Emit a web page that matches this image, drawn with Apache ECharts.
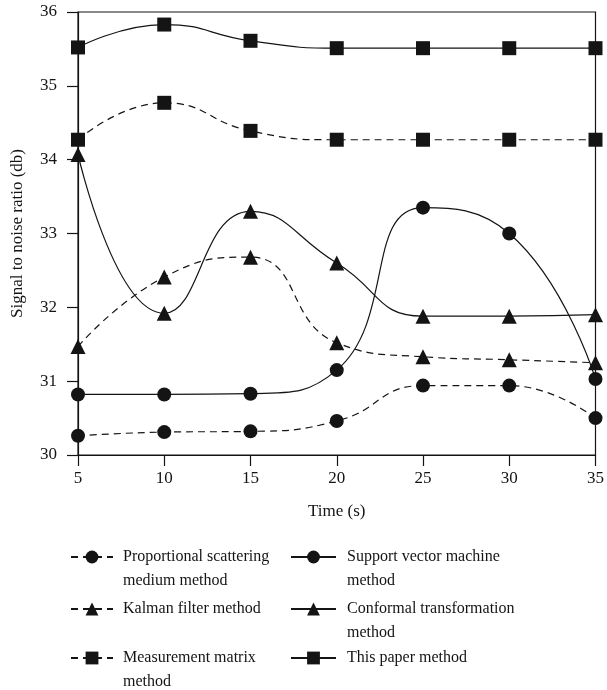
<!DOCTYPE html>
<html><head><meta charset="utf-8">
<script src="https://cdn.jsdelivr.net/npm/echarts@6/dist/echarts.min.js"></script>
<style>html,body{margin:0;padding:0;background:#fff}#c{width:607px;height:690px}</style>
</head><body><div id="c"></div>
<script>
const times = [5, 10, 15, 20, 25, 30, 35];
const xTicks = [5, 10, 15, 20, 25, 30, 35];
const yTicks = [30, 31, 32, 33, 34, 35, 36];
const propScattering = [30.26, 30.31, 30.32, 30.46, 30.94, 30.94, 30.50];
const supportVector = [30.82, 30.82, 30.83, 31.15, 33.35, 33.00, 31.03];
const kalman = [31.47, 32.41, 32.68, 31.52, 31.33, 31.29, 31.25];
const conformal = [34.07, 31.92, 33.30, 32.60, 31.88, 31.88, 31.90];
const measurement = [34.27, 34.77, 34.39, 34.27, 34.27, 34.27, 34.27];
const thisPaper = [35.52, 35.83, 35.61, 35.51, 35.51, 35.51, 35.51];
const nameLines = [
  ['Proportional scattering', 'medium method'],
  ['Kalman filter method', ''],
  ['Measurement matrix', 'method'],
  ['Support vector machine', 'method'],
  ['Conformal transformation', 'method'],
  ['This paper method', '']
];
const names = nameLines.map(l => (l[0] + ' ' + l[1]).trim());

const FONT = '"Liberation Serif", "DejaVu Serif", serif';
const INK = '#141414';
function pairs(vals){ return times.map((t,i)=>[t, vals[i]]); }
function mkSeries(name, vals, symbol, dashed, size){
  return {
    name, type:'line', data: pairs(vals), smooth: 0.5,
    symbol, symbolSize: size, showSymbol: true,
    itemStyle:{color: INK},
    lineStyle:{color: INK, width: 1.2, type: dashed ? [7,5] : 'solid'},
    z: 3
  };
}
const series = [
  mkSeries(names[0], propScattering, 'circle', true, 14),
  mkSeries(names[1], kalman, 'triangle', true, 15),
  mkSeries(names[2], measurement, 'rect', true, 14),
  mkSeries(names[3], supportVector, 'circle', false, 14),
  mkSeries(names[4], conformal, 'triangle', false, 15),
  mkSeries(names[5], thisPaper, 'rect', false, 14)
];
const rowY = [557, 609, 658, 557, 609, 658];
const colX = [70, 70, 70, 290, 290, 290];
const IH = 16;
const legends = names.map((n,i)=>({
  left: colX[i], top: rowY[i] - IH/2, padding: 0,
  itemWidth: i < 3 ? 42 : 45, itemHeight: IH, itemGap: 0,
  data: [n], selectedMode: false,
  formatter: () => nameLines[i][0],
  textStyle: {fontFamily: FONT, fontSize: 16, color: INK, padding: [0,0,0,i < 3 ? 5 : 6]}
}));
const graphics = [];
nameLines.forEach((l, i) => {
  if (l[1]) {
    graphics.push({
      type: 'text', x: i < 3 ? 123 : 347, y: rowY[i] + 24,
      style: {text: l[1], fontFamily: FONT, fontSize: 16, fill: INK, verticalAlign: 'middle', align: 'left'}
    });
  }
});
const chart = echarts.init(document.getElementById('c'), null, {renderer:'canvas'});
chart.setOption({
  animation: false,
  backgroundColor: '#fff',
  textStyle: {fontFamily: FONT},
  grid: {left: 78, right: 10, top: 12, bottom: 235, show: true, borderColor: INK, borderWidth: 1.2},
  legend: legends,
  graphic: graphics,
  xAxis: {
    type: 'value', min: xTicks[0], max: xTicks[xTicks.length-1], interval: 5,
    name: 'Time (s)', nameLocation: 'middle', nameGap: 48,
    nameTextStyle: {fontFamily: FONT, fontSize: 17, color: INK},
    axisLine: {lineStyle: {color: INK, width: 1.2}},
    axisTick: {length: 11, lineStyle: {color: INK, width: 1.2}},
    axisLabel: {fontFamily: FONT, fontSize: 17, color: INK, margin: 15},
    splitLine: {show: false}
  },
  yAxis: {
    type: 'value', min: yTicks[0], max: yTicks[yTicks.length-1], interval: 1,
    name: 'Signal to noise ratio (db)', nameLocation: 'middle', nameGap: 52,
    nameTextStyle: {fontFamily: FONT, fontSize: 17, color: INK},
    axisLine: {lineStyle: {color: INK, width: 1.2}},
    axisTick: {length: 11, lineStyle: {color: INK, width: 1.2}},
    axisLabel: {fontFamily: FONT, fontSize: 17, color: INK, margin: 21},
    splitLine: {show: false}
  },
  series
});
</script></body></html>
